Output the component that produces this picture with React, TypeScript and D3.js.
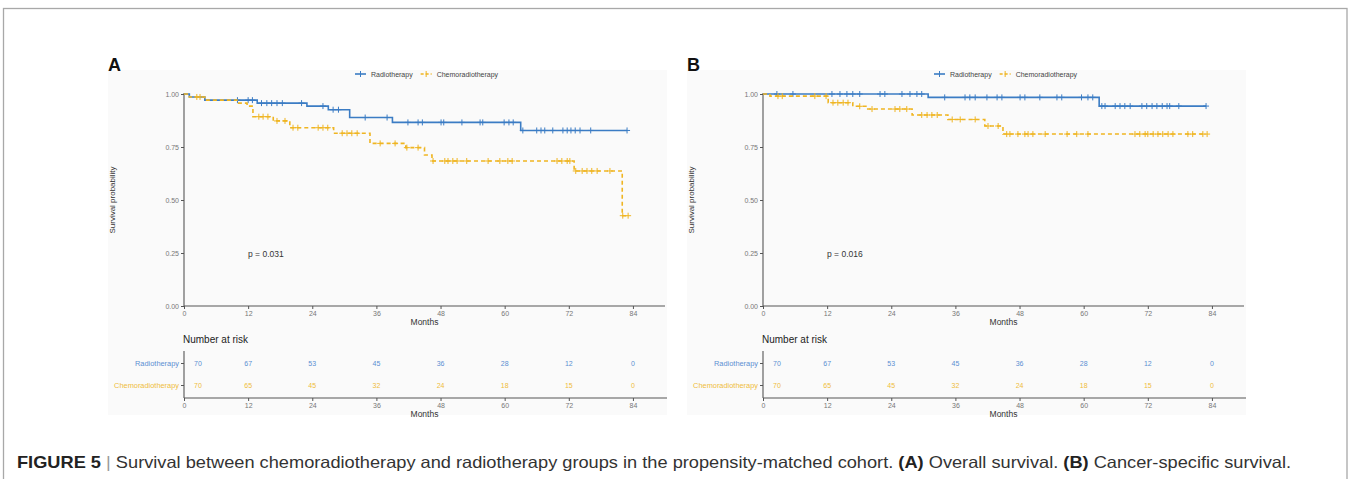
import * as d3 from "d3";
import React, { useEffect, useRef } from "react";

// groups and shared ticks
const groups = ["Radiotherapy", "Chemoradiotherapy"];
const lineColors = ["#3b7cc4", "#efb522"];
const riskColors = ["#5a8fd2", "#efbc3a"];
const monthTicks = [0, 12, 24, 36, 48, 60, 72, 84];
const survTicks = [0, 0.25, 0.5, 0.75, 1];

// number at risk (same in both panels)
const riskRadio = [70, 67, 53, 45, 36, 28, 12, 0];
const riskChemo = [70, 65, 45, 32, 24, 18, 15, 0];

// Panel A - overall survival: [month, survival]
const osRadioSteps = [
  [0, 1], [1, 0.986], [3.9, 0.971], [13.7, 0.957], [23, 0.943], [27, 0.926],
  [31, 0.889], [39, 0.866], [63, 0.828],
];
const osRadioCensor = [
  10, 12, 12.8, 14.5, 15.5, 16.4, 17.4, 18.4, 22, 26, 27.9, 28.9, 33.9, 38,
  41.9, 43.8, 44.6, 48.1, 48.6, 52, 55.4, 55.9, 59.9, 60.8, 61.6, 63.4, 66,
  66.8, 67.5, 69, 70.9, 71.7, 72.4, 73.2, 74.1, 76.1, 82.9,
];
const osChemoSteps = [
  [0, 1], [1, 0.986], [3.9, 0.971], [9.9, 0.957], [11.8, 0.943], [12.9, 0.893],
  [16.7, 0.873], [19.8, 0.841], [28, 0.815], [34.8, 0.767], [41.5, 0.747],
  [45, 0.712], [46.4, 0.684], [73, 0.637], [82, 0.426],
];
const osChemoCensor = [
  2.4, 3, 14, 14.8, 15.7, 17.4, 18.9, 20.4, 21.3, 25.1, 26, 26.9, 29.6, 30.5,
  31.4, 32.4, 36.7, 39.5, 41.7, 43.8, 46.6, 48.8, 49.4, 50.3, 51.1, 52.9, 56.9,
  59.1, 60.6, 61.4, 69.8, 70.7, 71.7, 72.2, 73.3, 74.5, 75.4, 76.3, 77.3, 79.7,
  82.1, 83.1,
];

// Panel B - cancer-specific survival
const cssRadioSteps = [[0, 1], [30.9, 0.984], [62.9, 0.943]];
const cssRadioCensor = [
  2.6, 5.6, 12.9, 14.4, 15.7, 16.8, 18.1, 21.9, 22.8, 26, 27.5, 28.8, 29.7,
  34, 37.8, 38.7, 39.7, 41.9, 43.8, 44.7, 48.1, 49, 51.8, 55, 55.9, 59.6, 60.8,
  61.7, 63.4, 64, 65.9, 66.8, 67.7, 68.7, 70.9, 71.8, 72.8, 73.7, 74.7, 75.6,
  76.1, 77.8, 82.9,
];
const cssChemoSteps = [
  [0, 1], [1.3, 0.99], [12.2, 0.959], [16.8, 0.942], [19.6, 0.929],
  [27.9, 0.901], [34.6, 0.88], [41.5, 0.849], [44.9, 0.811],
];
const cssChemoCensor = [
  2.8, 3.6, 9.7, 11.8, 13.1, 14, 15, 15.9, 18.1, 20.4, 24.7, 25.6, 26.9, 29.7,
  30.7, 31.6, 32.6, 35.4, 36.9, 39.7, 42.1, 44, 45.6, 46.2, 47.7, 49, 49.6,
  50.5, 52.8, 56.9, 58.7, 60.8, 69.6, 70.5, 71.5, 72, 73, 73.9, 74.8, 75.8,
  76.7, 79.5, 80.4, 82.3, 83.1,
];
const endMonth = 82.9;

const panels = [
  { label: "A", p: "p = 0.031", curves: [[osRadioSteps, osRadioCensor], [osChemoSteps, osChemoCensor]] },
  { label: "B", p: "p = 0.016", curves: [[cssRadioSteps, cssRadioCensor], [cssChemoSteps, cssChemoCensor]] },
];

const FONT = "'Liberation Sans', Arial, sans-serif";

function survAt(steps, t) {
  let s = steps[0][1];
  for (const [tt, v] of steps) if (tt <= t) s = v;
  return s;
}

function App() {
  const ref = useRef(null);

  useEffect(() => {
    const svg = d3.select(ref.current);
    svg.selectAll("*").remove();
    svg.attr("width", 1351).attr("height", 479).style("font-family", FONT);

    // outer frame
    svg.append("rect").attr("x", 3.5).attr("y", 8.5).attr("width", 1343.5).attr("height", 500)
      .attr("fill", "none").attr("stroke", "#a8a8a8").attr("stroke-width", 1.3);

    panels.forEach((panel, pi) => {
      const dx = pi * 579;
      const g = svg.append("g").attr("transform", `translate(${dx},0)`);

      g.append("rect").attr("x", 108).attr("y", 70).attr("width", 559).attr("height", 345).attr("fill", "#fafafa");
      g.append("text").attr("x", 108).attr("y", 71).text(panel.label)
        .attr("font-size", 18).attr("font-weight", "bold").attr("fill", "#111");

      const x = d3.scaleLinear().domain([0, 90]).range([184, 665]);
      const y = d3.scaleLinear().domain([0, 1]).range([306, 94]);

      // legend
      const lg = g.append("g");
      let lx = 355;
      groups.forEach((name, i) => {
        lg.append("line").attr("x1", lx).attr("x2", lx + 11).attr("y1", 74).attr("y2", 74)
          .attr("stroke", lineColors[i]).attr("stroke-width", 1.6)
          .attr("stroke-dasharray", i === 1 ? "3,2" : null);
        lg.append("line").attr("x1", lx + 5.5).attr("x2", lx + 5.5).attr("y1", 71).attr("y2", 77)
          .attr("stroke", lineColors[i]).attr("stroke-width", 1);
        const t = lg.append("text").attr("x", lx + 16).attr("y", 76.5).text(name)
          .attr("font-size", 7).attr("fill", "#444");
        lx += 16 + (t.node() as SVGTextElement).getComputedTextLength() + 8;
      });

      // axes
      const xAxis = g.append("g").attr("transform", "translate(0,306)")
        .call(d3.axisBottom(x).tickValues(monthTicks).tickSize(3).tickPadding(2));
      const yAxis = g.append("g").attr("transform", "translate(184,0)")
        .call(d3.axisLeft(y).tickValues(survTicks).tickFormat(d3.format(".2f")).tickSize(3).tickPadding(2));
      [xAxis, yAxis].forEach((a) => {
        a.select(".domain").attr("stroke", "#555").attr("stroke-width", 1.1);
        a.selectAll(".tick line").attr("stroke", "#555");
        a.selectAll(".tick text").attr("fill", "#777").attr("font-size", 7).attr("font-family", FONT);
      });
      xAxis.select(".domain").attr("d", `M184,0H665`);
      yAxis.select(".domain").attr("d", `M0,${y(1) - 1}V306`);

      g.append("text").attr("x", x(45)).attr("y", 325).attr("text-anchor", "middle")
        .text("Months").attr("font-size", 8.5).attr("fill", "#333");
      g.append("text").attr("transform", `translate(115,${y(0.5)}) rotate(-90)`).attr("text-anchor", "middle")
        .text("Survival probability").attr("font-size", 8).attr("fill", "#333");
      g.append("text").attr("x", 248).attr("y", 257).text(panel.p)
        .attr("font-size", 8.5).attr("fill", "#333");

      // curves
      const line = d3.line().x((d) => x(d[0])).y((d) => y(d[1])).curve(d3.curveStepAfter);
      panel.curves.forEach(([steps, censor], i) => {
        const pts = [...steps, [endMonth, steps[steps.length - 1][1]]];
        g.append("path").attr("d", line(pts)).attr("fill", "none")
          .attr("stroke", lineColors[i]).attr("stroke-width", 1.6)
          .attr("stroke-dasharray", i === 1 ? "4,3" : null);
        const cg = g.append("g").attr("stroke", lineColors[i]).attr("stroke-width", 1);
        censor.forEach((t) => {
          const cx = x(t), cy = y(survAt(steps, t));
          cg.append("line").attr("x1", cx - 3).attr("x2", cx + 3).attr("y1", cy).attr("y2", cy);
          cg.append("line").attr("x1", cx).attr("x2", cx).attr("y1", cy - 3).attr("y2", cy + 3);
        });
      });

      // risk table
      g.append("text").attr("x", 183).attr("y", 343).text("Number at risk")
        .attr("font-size", 10).attr("fill", "#222");
      const ry = d3.scalePoint().domain(groups).range([363, 385]);
      const rAxisY = g.append("g").attr("transform", "translate(184,0)")
        .call(d3.axisLeft(ry).tickSize(3).tickPadding(2));
      rAxisY.select(".domain").attr("d", "M0,351V398").attr("stroke", "#555").attr("stroke-width", 1.1);
      rAxisY.selectAll(".tick line").attr("stroke", "#555");
      rAxisY.selectAll(".tick text").attr("font-size", 7.4).attr("font-family", FONT)
        .attr("fill", (d) => riskColors[groups.indexOf(d)]);
      const rAxisX = g.append("g").attr("transform", "translate(0,398)")
        .call(d3.axisBottom(x).tickValues(monthTicks).tickSize(3).tickPadding(2));
      rAxisX.select(".domain").attr("d", "M184,0H667").attr("stroke", "#555").attr("stroke-width", 1.1);
      rAxisX.selectAll(".tick line").attr("stroke", "#555");
      rAxisX.selectAll(".tick text").attr("fill", "#777").attr("font-size", 7).attr("font-family", FONT);
      g.append("text").attr("x", x(45)).attr("y", 417).attr("text-anchor", "middle")
        .text("Months").attr("font-size", 8.5).attr("fill", "#333");

      [riskRadio, riskChemo].forEach((vals, i) => {
        vals.forEach((v, k) => {
          g.append("text").attr("x", x(monthTicks[k]) + (k === 0 ? 14 : 0)).attr("y", ry(groups[i]) + 2.5)
            .attr("text-anchor", "middle").text(v).attr("font-size", 7).attr("fill", riskColors[i]);
        });
      });
    });

    // caption
    const cap = svg.append("text").attr("x", 17).attr("y", 468).attr("font-size", 16.5)
      .attr("fill", "#333").attr("textLength", 1274).attr("lengthAdjust", "spacingAndGlyphs");
    cap.append("tspan").text("FIGURE 5").attr("font-weight", "bold").attr("fill", "#222");
    cap.append("tspan").text(" | ").attr("fill", "#999");
    cap.append("tspan").text("Survival between chemoradiotherapy and radiotherapy groups in the propensity-matched cohort. ");
    cap.append("tspan").text("(A)").attr("font-weight", "bold").attr("fill", "#222");
    cap.append("tspan").text(" Overall survival. ");
    cap.append("tspan").text("(B)").attr("font-weight", "bold").attr("fill", "#222");
    cap.append("tspan").text(" Cancer-specific survival.");
  }, []);

  return (
    <div style={{ position: "absolute", left: 0, top: 0 }}>
      <svg ref={ref}></svg>
    </div>
  );
}

export default App;
